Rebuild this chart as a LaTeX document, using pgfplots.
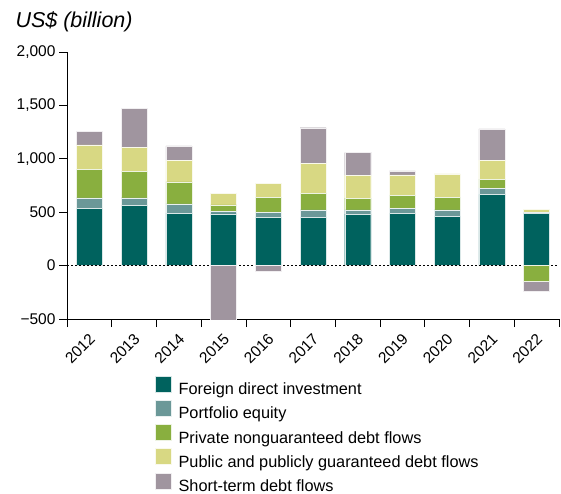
\documentclass[border=0pt]{standalone}
\usepackage{fontspec}
\setmainfont{Liberation Sans}
\usepackage{pgfplots}
\pgfplotsset{compat=1.18}
\definecolor{cFDI}{HTML}{00625E}
\definecolor{cPE}{HTML}{6B9898}
\definecolor{cPNG}{HTML}{89AF3F}
\definecolor{cPPG}{HTML}{D8D883}
\definecolor{cST}{HTML}{A0959F}
\pgfplotsset{
  base/.style={
    at={(67pt,174pt)}, anchor=south west,
    scale only axis, width=492pt, height=267pt,
    xmin=-0.5, xmax=10.5, ymin=-500, ymax=2000,
    ybar stacked, bar width=26pt,
  },
  bars/.style={fill=#1, draw=white!85!#1, line width=0.4pt},
}
\begin{document}
\begin{tikzpicture}[x=1pt,y=1pt]
\path[use as bounding box] (0,0) rectangle (561,493);
\node[anchor=base west, font=\fontsize{21.5}{26}\selectfont\itshape] at (12,465) {US\$ (billion)};
\begin{axis}[base,
  axis x line*=bottom, axis y line*=left,
  axis line style={line width=0.8pt},
  tick style={black, line width=0.8pt},
  tick align=outside,
  major tick length=8pt,
  xtick={-0.5,0.5,...,10.5},
  xticklabels={},
  extra x ticks={0,1,2,3,4,5,6,7,8,9,10},
  extra x tick labels={2012,2013,2014,2015,2016,2017,2018,2019,2020,2021,2022},
  extra x tick style={major tick length=0pt, tick style={draw=none}},
  ytick={-500,0,500,1000,1500,2000},
  yticklabels={−500,0,500,{1,000},{1,500},{2,000}},
  tick label style={font=\fontsize{15.5}{18}\selectfont},
  x tick label style={xshift=-1.1pt, yshift=-13pt, rotate=45, anchor=north east, inner sep=0pt},
  legend style={draw=none, fill=none, inner sep=0pt, at={(0.1789,-0.2122)}, anchor=north west,
    font=\fontsize{16.3}{19}\selectfont, row sep=4.3pt, column sep=6pt,
    nodes={text height=12pt, text depth=0pt, inner sep=1pt}},
  legend cell align=left,
  legend image code/.code={\fill[#1] (0pt,-3.3pt) rectangle (16pt,12.7pt);},
]
\addplot[bars=cFDI] coordinates {(0,537) (1,566) (2,491) (3,484) (4,453) (5,453) (6,481) (7,487) (8,462) (9,666) (10,487)};
\addplot[bars=cPE] coordinates {(0,97) (1,68) (2,87) (3,25) (4,47) (5,69) (6,41) (7,50) (8,60) (9,59) (10,10)};
\addplot[bars=cPNG] coordinates {(0,266) (1,250) (2,206) (3,60) (4,137) (5,156) (6,109) (7,122) (8,119) (9,84) (10,0)};
\addplot[bars=cPPG] coordinates {(0,231) (1,225) (2,204) (3,109) (4,132) (5,278) (6,216) (7,191) (8,218) (9,179) (10,31)};
\addplot[bars=cST] coordinates {(0,125) (1,363) (2,134) (3,0) (4,0) (5,335) (6,212) (7,37) (8,0) (9,293) (10,0)};
\legend{Foreign direct investment, Portfolio equity, Private nonguaranteed debt flows, Public and publicly guaranteed debt flows, Short-term debt flows}
\end{axis}
\begin{axis}[base, hide axis]
\addplot[bars=cPNG] coordinates {(0,0) (1,0) (2,0) (3,0) (4,0) (5,0) (6,0) (7,0) (8,0) (9,0) (10,-144)};
\addplot[bars=cST] coordinates {(0,0) (1,0) (2,0) (3,-560) (4,-50) (5,0) (6,0) (7,0) (8,0) (9,0) (10,-93)};
\draw[black, line width=1pt, dash pattern=on 2pt off 2pt] (axis cs:-0.5,0) -- (axis cs:10.5,0);
\end{axis}
\end{tikzpicture}
\end{document}
